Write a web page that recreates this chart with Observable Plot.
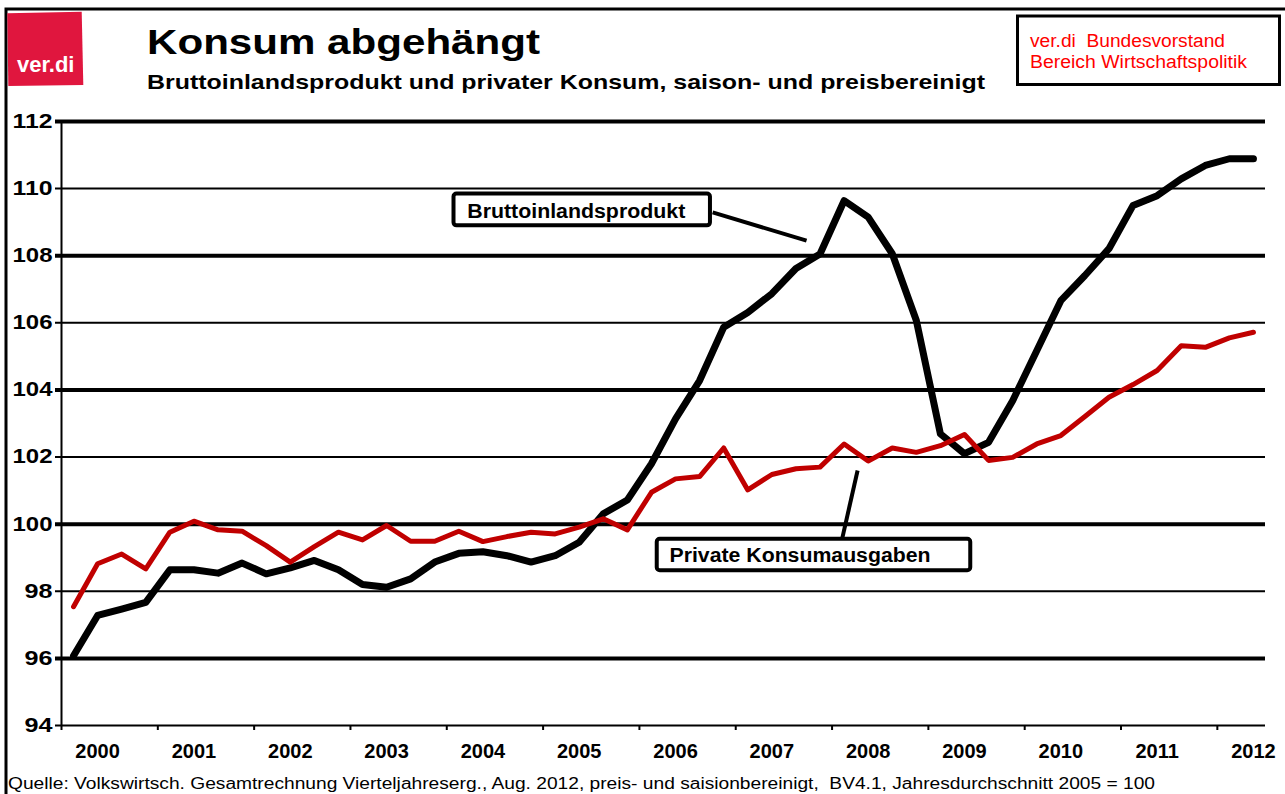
<!DOCTYPE html>
<html>
<head>
<meta charset="utf-8">
<script src="https://cdn.jsdelivr.net/npm/d3@7"></script>
<script src="https://cdn.jsdelivr.net/npm/@observablehq/plot@0.6"></script>
<style>
  body { margin: 0; background: #fff; }
  #wrap { position: relative; width: 1285px; height: 794px; overflow: hidden; background: #fff;
          font-family: "Liberation Sans", Arial, sans-serif; }
  #chart svg { position: absolute; left: 0; top: 0; }
  #deco { position: absolute; left: 0; top: 0; pointer-events: none; }
</style>
</head>
<body>
<div id="wrap">
  <div id="chart"></div>
  <svg id="deco" width="1285" height="794" font-family="Liberation Sans, Arial, sans-serif">
    <path d="M6,794 V9 H1285" fill="none" stroke="#000" stroke-width="3"/>
    <polygon points="7.3,13.3 81.7,11.7 83.3,85 8.3,86" fill="#e0163e"/>
    <text x="17" y="72" font-size="22" font-weight="bold" fill="#fff">ver.di</text>
    <text x="147" y="53.5" font-size="35" font-weight="bold" fill="#000" textLength="393" lengthAdjust="spacingAndGlyphs">Konsum abgehängt</text>
    <text x="147" y="89" font-size="21" font-weight="bold" fill="#000" textLength="838" lengthAdjust="spacingAndGlyphs">Bruttoinlandsprodukt und privater Konsum, saison- und preisbereinigt</text>
    <rect x="1017.5" y="16" width="262" height="68.5" fill="#fff" stroke="#000" stroke-width="3"/>
    <text x="1030" y="46.7" font-size="18" fill="#ff0000" textLength="195" lengthAdjust="spacingAndGlyphs">ver.di&#160; Bundesvorstand</text>
    <text x="1030" y="68.3" font-size="18" fill="#ff0000" textLength="217" lengthAdjust="spacingAndGlyphs">Bereich Wirtschaftspolitik</text>
    <text x="8" y="789" font-size="16" fill="#000" textLength="1147" lengthAdjust="spacingAndGlyphs">Quelle: Volkswirtsch. Gesamtrechnung Vierteljahreserg., Aug. 2012, preis- und saisionbereinigt,&#160; BV4.1, Jahresdurchschnitt 2005 = 100</text>
  </svg>
</div>
<script>
// ---- Data (quarterly, 2000 Q1 – 2012 Q2, Index 2005 = 100) ----
const years = [2000, 2001, 2002, 2003, 2004, 2005, 2006, 2007, 2008, 2009, 2010, 2011, 2012];

const bip = [
  96.08, 97.28, 97.47, 97.67,
  98.64, 98.64, 98.54, 98.84,
  98.52, 98.70, 98.92, 98.64,
  98.20, 98.12, 98.37, 98.87,
  99.13, 99.18, 99.06, 98.87,
  99.06, 99.46, 100.31, 100.72,
  101.80, 103.14, 104.28, 105.87,
  106.31, 106.87, 107.62, 108.05,
  109.64, 109.15, 108.06, 106.07,
  102.69, 102.10, 102.44, 103.68,
  105.17, 106.66, 107.41, 108.21,
  109.50, 109.79, 110.29, 110.69,
  110.89, 110.89
];

const konsum = [
  97.54, 98.82, 99.11, 98.67,
  99.76, 100.09, 99.83, 99.79,
  99.36, 98.87, 99.33, 99.76,
  99.53, 99.96, 99.49, 99.49,
  99.79, 99.48, 99.63, 99.76,
  99.71, 99.91, 100.16, 99.83,
  100.95, 101.35, 101.42, 102.27,
  101.02, 101.48, 101.65, 101.70,
  102.39, 101.88, 102.27, 102.14,
  102.34, 102.67, 101.90, 101.99,
  102.39, 102.64, 103.21, 103.78,
  104.16, 104.58, 105.32, 105.27,
  105.55, 105.72
];

const yTicks = [94, 96, 98, 100, 102, 104, 106, 108, 110, 112];
const seriesNames = ["Bruttoinlandsprodukt", "Private Konsumausgaben"];

// ---- Build table ----
const rows = bip.map((v, i) => ({ i, bip: v, konsum: konsum[i] }));
const n = bip.length;
const yearBounds = years.map((y, k) => 4 * k - 0.5);      // tick marks between years
const yearLabelPos = years.map((y, k) => 4 * k + 1);       // label under 2nd quarter

// annotation layout (in data units)
const annBip = { x1: 15.80, x2: 26.45, y1: 109.84, y2: 108.89, tx: 16.35, ty: 109.31,
                 lx1: 26.54, ly1: 109.29, lx2: 30.44, ly2: 108.45, text: seriesNames[0] };
const annKon = { x1: 24.24, x2: 37.26, y1: 99.55, y2: 98.61, tx: 24.75, ty: 99.06,
                 lx1: 31.93, ly1: 99.60, lx2: 32.56, ly2: 101.60, text: seriesNames[1] };
const anns = [annBip, annKon];

const chart = Plot.plot({
  width: 1285,
  height: 794,
  marginLeft: 61,
  marginRight: 20,
  marginTop: 121,
  marginBottom: 69,
  x: { type: "linear", domain: [-0.5, n - 0.5] },
  y: { type: "linear", domain: [94, 112] },
  style: { fontFamily: "Liberation Sans, Arial, sans-serif", background: "transparent", color: "#000" },
  marks: [
    // horizontal grid lines (alternating thick / thin)
    Plot.ruleY(yTicks.filter(d => d > 94), {
      y: d => d, stroke: "#000", insetLeft: -6,
      strokeWidth: d => (d % 4 === 0 ? 4 : 2)
    }),
    Plot.ruleY([94], { stroke: "#000", strokeWidth: 2, insetLeft: -6 }),
    Plot.ruleX([-0.5], { y1: 94, y2: 112, stroke: "#000", strokeWidth: 2 }),
    Plot.axisY(yTicks, {
      tickSize: 0, tickPadding: 9, fontSize: 20, fontWeight: "bold", fill: "#000",
      tickFormat: d => String(d), label: null
    }),
    Plot.axisX(yearBounds, {
      tickSize: 5, strokeWidth: 2, tickFormat: () => "", label: null
    }),
    Plot.axisX(yearLabelPos, {
      tickSize: 0, tickPadding: 18, fontSize: 20, fontWeight: "bold", fill: "#000",
      tickFormat: d => String(years[(d - 1) / 4]), label: null
    }),
    // series
    Plot.line(rows, { x: "i", y: "bip", stroke: "#000", strokeWidth: 7, strokeLinejoin: "round", strokeLinecap: "round" }),
    Plot.line(rows, { x: "i", y: "konsum", stroke: "#c00000", strokeWidth: 5, strokeLinejoin: "round" }),
    // annotation leaders, boxes and labels
    Plot.link(anns, { x1: "lx1", y1: "ly1", x2: "lx2", y2: "ly2", stroke: "#000", strokeWidth: 4 }),
    Plot.rect(anns, { x1: "x1", x2: "x2", y1: "y1", y2: "y2", fill: "#fff", stroke: "#000", strokeWidth: 4, rx: 3 }),
    Plot.text(anns, { x: "tx", y: "ty", text: "text", textAnchor: "start", fontSize: 20, fontWeight: "bold", fill: "#000" })
  ]
});

document.getElementById("chart").appendChild(chart);

// stretch some texts horizontally to match the original's wide rendering
const widths = { "Bruttoinlandsprodukt": 218, "Private Konsumausgaben": 261 };
chart.querySelectorAll("text").forEach(t => {
  const s = t.textContent.trim();
  let w = null;
  if (widths[s]) w = widths[s];
  else if (yTicks.map(String).includes(s)) w = s.length === 3 ? 40 : 28;
  if (w) {
    t.setAttribute("textLength", w);
    t.setAttribute("lengthAdjust", "spacingAndGlyphs");
  }
});
</script>
</body>
</html>
